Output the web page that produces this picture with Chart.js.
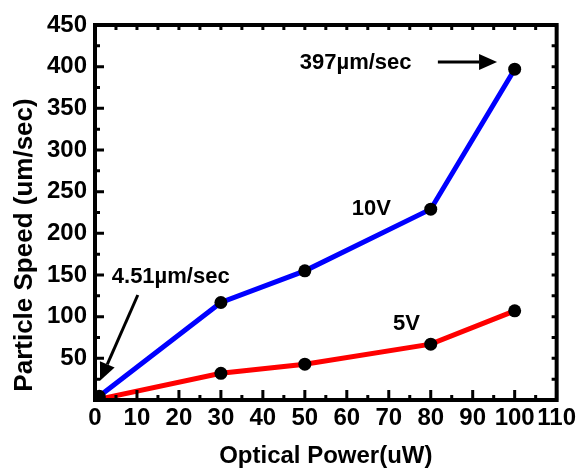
<!DOCTYPE html>
<html lang="en">
<head>
    <meta charset="UTF-8">
    <title>Particle Speed vs Optical Power</title>
    <script src="https://cdn.jsdelivr.net/npm/chart.js"></script>
    <style>
        body {
            margin: 0;
            background: #fff;
        }
        #chart {
            display: block;
        }
    </style>
</head>
<body>
    <canvas id="chart" width="580" height="468"></canvas>

    <script>
        // data
        const power = [1, 30, 50, 80, 100];
        const speed10V = [4.51, 117, 155, 229, 397];
        const speed5V = [1, 32, 43, 67, 107];

        const xTicks = [0, 10, 20, 30, 40, 50, 60, 70, 80, 90, 100, 110];
        const yTicks = [0, 50, 100, 150, 200, 250, 300, 350, 400, 450];

        const FONT = 'Liberation Sans, Arial, sans-serif';

        const toPoints = (xs, ys) => xs.map((x, i) => ({ x: x, y: ys[i] }));

        // text labels and arrows, placed in data units
        const notes = [
            { text: '397\u00b5m/sec', x: 48.8, y: 405 },
            { text: '10V', x: 61.2, y: 229 },
            { text: '5V', x: 71, y: 91 },
            { text: '4.51\u00b5m/sec', x: 4, y: 148 }
        ];
        const arrows = [
            { from: [81.7, 405.5], to: [95.8, 405.5] },
            { from: [10.2, 126], to: [1.2, 23] }
        ];

        const frameAndNotes = {
            id: 'frameAndNotes',
            afterDraw(chart) {
                const ctx = chart.ctx;
                const a = chart.chartArea;
                const xs = chart.scales.x;
                const ys = chart.scales.y;
                ctx.save();
                ctx.strokeStyle = '#000';
                ctx.fillStyle = '#000';

                // ticks, inward, on all four sides
                ctx.lineWidth = 3;
                ctx.beginPath();
                for (let v = 0; v <= 110; v += 5) {
                    const px = xs.getPixelForValue(v);
                    const major = v % 10 === 0;
                    ctx.moveTo(px, a.bottom);
                    ctx.lineTo(px, a.bottom - (major ? 10 : 5));
                    ctx.moveTo(px, a.top);
                    ctx.lineTo(px, a.top + 5);
                }
                for (let v = 0; v <= 450; v += 25) {
                    const py = ys.getPixelForValue(v);
                    const major = v % 50 === 0;
                    ctx.moveTo(a.left, py);
                    ctx.lineTo(a.left + (major ? 9 : 5), py);
                    ctx.moveTo(a.right, py);
                    ctx.lineTo(a.right - 5, py);
                }
                ctx.stroke();

                // frame
                ctx.lineWidth = 4;
                ctx.strokeRect(a.left, a.top, a.right - a.left, a.bottom - a.top);

                // y axis title (sits lower than the plot centre in the original)
                ctx.save();
                ctx.translate(25, 245);
                ctx.rotate(-Math.PI / 2);
                ctx.font = 'bold 26px ' + FONT;
                ctx.textAlign = 'center';
                ctx.textBaseline = 'middle';
                ctx.fillText('Particle Speed (um/sec)', 0, 0);
                ctx.restore();

                // notes
                ctx.font = 'bold 22px ' + FONT;
                ctx.textBaseline = 'middle';
                ctx.textAlign = 'left';
                notes.forEach(n => {
                    ctx.fillText(n.text, xs.getPixelForValue(n.x), ys.getPixelForValue(n.y));
                });

                // arrows
                arrows.forEach(ar => {
                    const x1 = xs.getPixelForValue(ar.from[0]);
                    const y1 = ys.getPixelForValue(ar.from[1]);
                    const x2 = xs.getPixelForValue(ar.to[0]);
                    const y2 = ys.getPixelForValue(ar.to[1]);
                    const ang = Math.atan2(y2 - y1, x2 - x1);
                    const headLen = 18, headW = 8;
                    const bx = x2 - headLen * Math.cos(ang);
                    const by = y2 - headLen * Math.sin(ang);
                    ctx.lineWidth = 3;
                    ctx.beginPath();
                    ctx.moveTo(x1, y1);
                    ctx.lineTo(bx, by);
                    ctx.stroke();
                    ctx.beginPath();
                    ctx.moveTo(x2, y2);
                    ctx.lineTo(bx + headW * Math.sin(ang), by - headW * Math.cos(ang));
                    ctx.lineTo(bx - headW * Math.sin(ang), by + headW * Math.cos(ang));
                    ctx.closePath();
                    ctx.fill();
                });
                ctx.restore();
            }
        };

        const chart = new Chart(document.getElementById('chart'), {
            type: 'line',
            data: {
                datasets: [{
                    label: '10V',
                    data: toPoints(power, speed10V),
                    borderColor: '#0000ff',
                    borderWidth: 5,
                    pointRadius: 6.5,
                    pointBackgroundColor: '#000',
                    pointBorderWidth: 0
                }, {
                    label: '5V',
                    data: toPoints(power, speed5V),
                    borderColor: '#ff0000',
                    borderWidth: 5,
                    pointRadius: 6.5,
                    pointBackgroundColor: '#000',
                    pointBorderWidth: 0
                }]
            },
            options: {
                responsive: false,
                animation: false,
                layout: {
                    padding: { top: 25, right: 23, left: 0, bottom: 0 }
                },
                plugins: {
                    legend: { display: false },
                    tooltip: { enabled: false }
                },
                scales: {
                    x: {
                        type: 'linear',
                        min: 0,
                        max: 110,
                        grid: { display: false, drawTicks: false },
                        border: { display: false },
                        afterBuildTicks: s => { s.ticks = xTicks.map(v => ({ value: v })); },
                        afterFit: s => { s.height = 68; },
                        ticks: {
                            color: '#000',
                            font: { family: FONT, size: 24, weight: 'bold' },
                            padding: 4,
                            autoSkip: false,
                            maxRotation: 0
                        },
                        title: {
                            display: true,
                            text: 'Optical Power(uW)',
                            color: '#000',
                            font: { family: FONT, size: 24, weight: 'bold', lineHeight: 1 },
                            padding: 0
                        }
                    },
                    y: {
                        min: 0,
                        max: 450,
                        grid: { display: false, drawTicks: false },
                        border: { display: false },
                        afterBuildTicks: s => { s.ticks = yTicks.map(v => ({ value: v })); },
                        afterFit: s => { s.width = 95; },
                        ticks: {
                            color: '#000',
                            font: { family: FONT, size: 24, weight: 'bold' },
                            padding: 8,
                            callback: v => (v === 0 ? '' : v)
                        },
                        title: { display: false }
                    }
                }
            },
            plugins: [frameAndNotes]
        });
    </script>
</body>
</html>
